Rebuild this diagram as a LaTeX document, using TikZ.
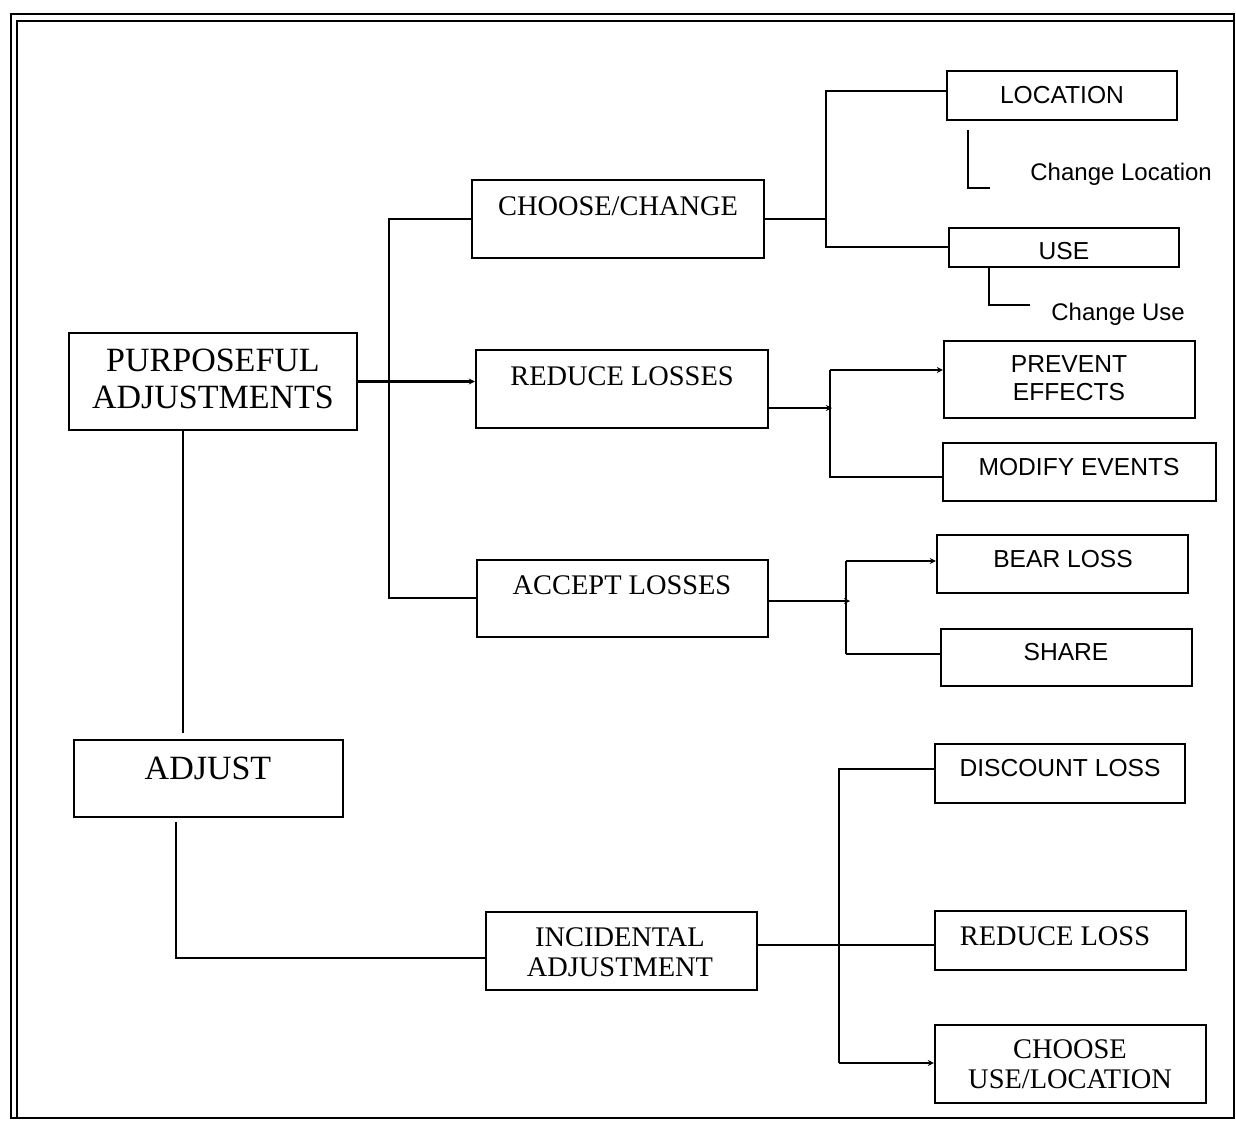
\documentclass[tikz,border=0pt]{standalone}
\usepackage{fontspec}
\setmainfont{Liberation Serif}
\newfontfamily\sansf{Liberation Sans}
\usetikzlibrary{fit,arrows.meta}

\tikzset{
  box/.style={draw, rectangle, line width=1.2pt, inner sep=0pt},
  bigtext/.style={font=\fontsize{17}{18.5}\selectfont, align=center, inner sep=0pt},
  midtext/.style={font=\fontsize{14.2}{15}\selectfont, align=center, inner sep=0pt},
  sanstext/.style={font=\sansf\fontsize{12.3}{14}\selectfont, align=center, inner sep=0pt},
  notetext/.style={font=\sansf\fontsize{12}{14}\selectfont, inner sep=0pt},
  wire/.style={line width=1.1pt},
  arrowed/.style={wire, -{Stealth[length=3pt,width=3pt]}},
  frame/.style={line width=1.2pt}
}

\begin{document}
\begin{tikzpicture}[x=0.5pt, y=-0.5pt]
\useasboundingbox (0,0) rectangle (1236,1121);

% double frame on top and left
\draw[frame] (11,14) rectangle (1234,1118);
\draw[frame] (17,1118) -- (17,21) -- (1234,21);

% boxes
\node[box, fit={(69,333) (357,430)}]   (pa)   {};
\node[box, fit={(74,740) (343,817)}]   (adj)  {};
\node[box, fit={(472,180) (764,258)}]  (cc)   {};
\node[box, fit={(476,350) (768,428)}]  (rl)   {};
\node[box, fit={(477,560) (768,637)}]  (al)   {};
\node[box, fit={(486,912) (757,990)}]  (inc)  {};
\node[box, fit={(947,71) (1177,120)}]  (loc)  {};
\node[box, fit={(949,228) (1179,267)}] (use)  {};
\node[box, fit={(944,341) (1195,418)}] (prev) {};
\node[box, fit={(943,443) (1216,501)}] (mod)  {};
\node[box, fit={(937,535) (1188,593)}] (bear) {};
\node[box, fit={(941,629) (1192,686)}] (share){};
\node[box, fit={(935,744) (1185,803)}] (disc) {};
\node[box, fit={(935,911) (1186,970)}] (redl) {};
\node[box, fit={(935,1025) (1206,1103)}] (cul) {};

% labels
\node[bigtext] (pa-l)   at (213,379)  {PURPOSEFUL\\ADJUSTMENTS};
\node[bigtext] (adj-l)  at (208,768)  {ADJUST};
\node[midtext] (cc-l)   at (618,206)  {CHOOSE/CHANGE};
\node[midtext] (rl-l)   at (622,376)  {REDUCE LOSSES};
\node[midtext] (al-l)   at (622,585)  {ACCEPT LOSSES};
\node[midtext] (inc-l)  at (620,952)  {INCIDENTAL\\ADJUSTMENT};
\node[sanstext] (loc-l)  at (1062,95)  {LOCATION};
\node[sanstext] (use-l)  at (1064,251) {USE};
\node[sanstext] (prev-l) at (1069,378) {PREVENT\\EFFECTS};
\node[sanstext] (mod-l)  at (1079,467) {MODIFY EVENTS};
\node[sanstext] (bear-l) at (1063,559) {BEAR LOSS};
\node[sanstext] (share-l) at (1066,652) {SHARE};
\node[sanstext] (disc-l) at (1060,768) {DISCOUNT LOSS};
\node[midtext] (redl-l) at (1055,936) {REDUCE LOSS};
\node[midtext] (cul-l)  at (1070,1064) {CHOOSE\\USE/LOCATION};
\node[notetext, anchor=base west] (chl) at (1030,180) {Change Location};
\node[notetext, anchor=base west] (chu) at (1051,320) {Change Use};

% purposeful adjustments to its three branches
\coordinate (busT) at (389,219);
\coordinate (busB) at (389,598);
\draw[arrowed] (pa.east) -- (rl.west |- pa.east);
\draw[wire] (cc.west |- busT) -- (busT) -- (busB) -- (al.west |- busB);

% purposeful adjustments down to adjust
\coordinate (v1) at (183,733);
\draw[wire] (pa.south -| v1) -- (v1);

% adjust to incidental adjustment
\coordinate (v2) at (176,822);
\coordinate (c2) at (176,958);
\draw[wire] (v2) -- (c2) -- (inc.west |- c2);

% choose/change to location and use
\coordinate (j2)  at (826,219);
\coordinate (j2t) at (826,91);
\coordinate (j2b) at (826,247);
\draw[wire] (cc.east) -- (j2);
\draw[wire] (loc.west |- j2t) -- (j2t) -- (j2b) -- (use.west |- j2b);

% sub-notes under location and use
\coordinate (h1t) at (968,130);
\coordinate (h1b) at (968,188);
\coordinate (h1e) at (990,188);
\draw[wire] (h1t) -- (h1b) -- (h1e);
\coordinate (h2b) at (989,305);
\coordinate (h2e) at (1030,305);
\draw[wire] (use.south -| h2b) -- (h2b) -- (h2e);

% reduce losses to prevent effects and modify events
\coordinate (j3)  at (832,408);
\coordinate (j3t) at (830,370);
\coordinate (j3b) at (830,477);
\draw[arrowed] (rl.east |- j3) -- (j3);
\draw[wire] (j3t) -- (j3b) -- (mod.west |- j3b);
\draw[arrowed] (j3t) -- (prev.west |- j3t);

% accept losses to bear loss and share
\coordinate (j4)  at (850,601);
\coordinate (j4t) at (846,561);
\coordinate (j4b) at (846,654);
\draw[arrowed] (al.east |- j4) -- (j4);
\draw[wire] (j4b) -- (j4t);
\draw[arrowed] (j4t) -- (bear.west |- j4t);
\draw[wire] (j4b) -- (share.west |- j4b);

% incidental adjustment to its three branches
\coordinate (j5)  at (839,945);
\coordinate (j5t) at (839,769);
\coordinate (j5b) at (839,1063);
\draw[wire] (inc.east |- j5) -- (redl.west |- j5);
\draw[wire] (disc.west |- j5t) -- (j5t) -- (j5b);
\draw[arrowed] (j5b) -- (cul.west |- j5b);
\end{tikzpicture}
\end{document}
